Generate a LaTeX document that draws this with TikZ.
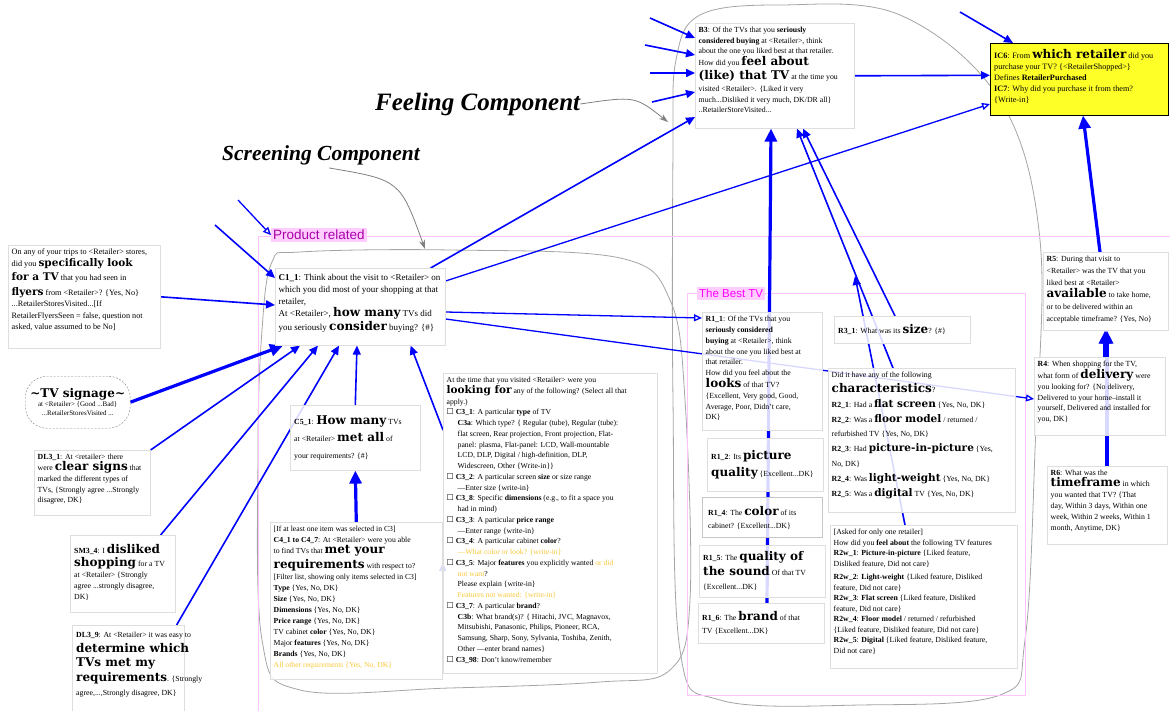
\documentclass[tikz,border=0pt]{standalone}
\usepackage{fontspec}
\setmainfont{Liberation Serif}
\newfontfamily\bigf{DejaVu Serif}
\newfontfamily\symf{DejaVu Sans}
\newfontfamily\lblf{Liberation Sans}
\usetikzlibrary{arrows.meta}
\pgfdeclarelayer{background}
\pgfsetlayers{background,main}

\definecolor{conn}{RGB}{0,0,255}
\definecolor{boxline}{RGB}{222,222,222}
\definecolor{loopgray}{RGB}{165,165,165}
\definecolor{pinkline}{RGB}{255,195,255}
\definecolor{pinkfill}{RGB}{255,205,255}
\definecolor{prodtext}{RGB}{170,0,170}
\definecolor{besttext}{RGB}{255,0,255}
\definecolor{ora}{RGB}{250,200,60}
\definecolor{ylw}{RGB}{255,255,40}

% emphasised key words
\newcommand\bw[1]{{\bigf\bfseries\fontsize{12}{14}\selectfont #1}}
\newcommand\bwm[1]{{\bigf\bfseries\fontsize{10.5}{13}\selectfont #1}}
\newcommand\chkbox{{\symf\fontsize{8}{10}\selectfont ☐}\ }
\newcommand\indt{\hspace*{11pt}}

\tikzset{
  qbox/.style={draw=boxline, fill=white, fill opacity=0.85, line width=0.6pt,
    anchor=north west, inner sep=0pt},
  qtext/.style={anchor=north west, align=left, inner sep=0pt},
  link/.style={draw=conn, line width=1.6pt, -{Triangle[length=9pt,width=8pt]}},
  openlink/.style={draw=conn, line width=1.3pt, -{Triangle[open,length=8pt,width=7pt]}},
  heavylink/.style={draw=conn, line width=3.2pt, -{Triangle[length=13pt,width=12pt]}},
  loopline/.style={draw=loopgray, line width=0.8pt},
  graylink/.style={draw=gray, line width=0.8pt, -{Stealth[length=9pt,width=6pt]}},
  complabel/.style={inner sep=0pt, anchor=west},
}

% question box, text from the top: name, x, y, width, height, font, text
\newcommand\qnode[7]{%
  \node[qbox, minimum width=#4pt, minimum height=#5pt] (#1) at (#2,#3) {};
  \node[qtext, font=#6] (#1t) at ([shift={(3.5pt,-4pt)}]#1.north west) {#7};}
% question box, text centred vertically
\newcommand\qnodec[7]{%
  \node[qbox, minimum width=#4pt, minimum height=#5pt] (#1) at (#2,#3) {};
  \node[qtext, anchor=west, font=#6] (#1t) at ([xshift=4pt]#1.west) {#7};}

\begin{document}
\begin{tikzpicture}[x=1pt,y=-1pt]
\useasboundingbox (0,0) rectangle (1170,711);

% ---------- labels ----------
\node[complabel, font=\fontsize{25}{27}\selectfont\bfseries\itshape] (feel) at (375,104) {Feeling Component};
\node[complabel, font=\fontsize{21.5}{23}\selectfont\bfseries\itshape] (scr) at (222,155) {Screening Component};
\node[fill=pinkfill, text=prodtext, font=\lblf\fontsize{13.5}{13.5}\selectfont,
  inner xsep=2pt, inner ysep=2pt, anchor=north west] (prod) at (271,228) {Product related};

% ---------- feeling component ----------
\qnode{b3}{695}{23}{159}{105}{\fontsize{7.8}{10.5}\selectfont}{%
\textbf{B3}: Of the TVs that you \textbf{seriously}\\
\textbf{considered buying} at <Retailer>, think\\
about the one you liked best at that retailer.\\
How did you \bw{feel about}\\[2pt]
\bw{(like) that TV} at the time you\\[2pt]
visited <Retailer>. \{Liked it very\\
much...Disliked it very much, DK/DR all\}\\
..RetailerStoreVisited...}

\node[draw=black, fill=ylw, line width=0.6pt, minimum width=178pt, minimum height=72pt,
  anchor=north west, inner sep=0pt] (ic6) at (990,43) {};
\node[qtext, font=\fontsize{8.2}{11}\selectfont] (ic6t) at ([shift={(4pt,-6pt)}]ic6.north west) {%
\textbf{IC6}: From \bw{which retailer} did you\\
purchase your TV? \{<RetailerShopped>\}\\
Defines \textbf{RetailerPurchased}\\
\textbf{IC7}: Why did you purchase it from them?\\
\{Write-in\}};

% ---------- screening component ----------
\qnode{fly}{8}{245}{152}{103}{\fontsize{8.2}{11.5}\selectfont}{%
On any of your trips to <Retailer> stores,\\
did you \bwm{specifically look}\\[3pt]
\bwm{for a TV} that you had seen in\\[3pt]
\bwm{flyers} from <Retailer>? \{Yes, No\}\\
...RetailerStoresVisited...{[}If\\
RetailerFlyersSeen = false, question not\\
asked, value assumed to be No{]}}

\node[qbox, minimum width=170pt, minimum height=77pt] (c1) at (275,268) {};
\node[qtext, font=\fontsize{9}{12}\selectfont] (c1t) at ([shift={(3.5pt,-6pt)}]c1.north west) {%
\textbf{C1\_1}: Think about the visit to <Retailer> on\\
which you did most of your shopping at that\\
retailer,\\
At <Retailer>, \bw{how many} TVs did\\[2pt]
you seriously \bw{consider} buying? \{\#\}};

\node[draw=gray, dash pattern=on 2pt off 1.5pt, rounded corners=22pt, fill=white,
  fill opacity=0.85, text opacity=1, minimum width=105pt, minimum height=52pt,
  anchor=north west, align=center, inner sep=0pt, font=\fontsize{7}{9}\selectfont] (sign) at (25,376)
  {\bw{\textasciitilde TV signage\textasciitilde}\\ at <Retailer> \{Good ...Bad\}\\ ...RetailerStoresVisited ...};

\qnode{dl31}{34}{450}{116}{65}{\fontsize{7.8}{10.8}\selectfont}{%
\textbf{DL3\_1}: At <retailer> there\\
were \bw{clear signs} that\\
marked the different types of\\
TVs, \{Strongly agree ...Strongly\\
disagree, DK\}}

\node[qbox, minimum width=105pt, minimum height=77pt] (sm34) at (70,535) {};
\node[qtext, font=\fontsize{7.8}{11}\selectfont] (sm34t) at ([shift={(4pt,-9pt)}]sm34.north west) {%
\textbf{SM3\_4}: I \bw{disliked}\\[2pt]
\bw{shopping} for a TV\\
at <Retailer> \{Strongly\\
agree ...strongly disagree,\\
DK\}};

\node[qbox, minimum width=112pt, minimum height=86pt] (dl39) at (72,625) {};
\node[qtext, font=\fontsize{7.8}{14.5}\selectfont] (dl39t) at ([shift={(4pt,-7pt)}]dl39.north west) {%
\textbf{DL3\_9}: At <Retailer> it was easy to\\
\bw{determine which}\\
\bw{TVs met my}\\
\bw{requirements}. \{Strongly\\
agree,...,Strongly disagree, DK\}};

\qnodec{c5}{290}{405}{130}{65}{\fontsize{7.8}{17}\selectfont}{%
\textbf{C5\_1}: \bw{How many} TVs\\
at <Retailer> \bw{met all} of\\
your requirements? \{\#\}}

\qnode{c4}{270}{522}{172}{157}{\fontsize{7.7}{11}\selectfont}{%
{[}If at least one item was selected in C3{]}\\
\textbf{C4\_1 to C4\_7}: At <Retailer> were you able\\
to find TVs that \bw{met your}\\[2pt]
\bw{requirements} with respect to?\\
{[}Filter list, showing only items selected in C3{]}\\
\textbf{Type} \{Yes, No, DK\}\\
\textbf{Size} \{Yes, No, DK\}\\
\textbf{Dimensions} \{Yes, No, DK\}\\
\textbf{Price range} \{Yes, No, DK\}\\
TV cabinet \textbf{color} \{Yes, No, DK\}\\
Major \textbf{features} \{Yes, No, DK\}\\
\textbf{Brands} \{Yes, No, DK\}\\
\textcolor{ora}{All other requirements \{Yes, No, DK\}}}

\qnode{c3}{443}{373}{214}{300}{\fontsize{7.7}{10.75}\selectfont}{%
At the time that you visited <Retailer> were you\\
\bwm{looking for} any of the following? (Select all that\\
apply.)\\
\chkbox\textbf{C3\_1}: A particular \textbf{type} of TV\\
\indt\textbf{C3a}: Which type? \{ Regular (tube), Regular (tube):\\
\indt flat screen, Rear projection, Front projection, Flat-\\
\indt panel: plasma, Flat-panel: LCD, Wall-mountable\\
\indt LCD, DLP, Digital / high-definition, DLP,\\
\indt Widescreen, Other \{Write-in\}\}\\
\chkbox\textbf{C3\_2}: A particular screen \textbf{size} or size range\\
\indt ---Enter size \{write-in\}\\
\chkbox\textbf{C3\_8}: Specific \textbf{dimensions} (e.g., to fit a space you\\
\indt had in mind)\\
\chkbox\textbf{C3\_3}: A particular \textbf{price range}\\
\indt ---Enter range \{write-in\}\\
\chkbox\textbf{C3\_4}: A particular cabinet \textbf{color}?\\
\indt\textcolor{ora}{---What color or look? \{write-in\}}\\
\chkbox\textbf{C3\_5}: Major \textbf{features} you explicitly wanted \textcolor{ora}{or did}\\
\indt\textcolor{ora}{not want}?\\
\indt Please explain \{write-in\}\\
\indt\textcolor{ora}{Features not wanted: \{write-in\}}\\
\chkbox\textbf{C3\_7}: A particular \textbf{brand}?\\
\indt\textbf{C3b}: What brand(s)? \{ Hitachi, JVC, Magnavox,\\
\indt Mitsubishi, Panasonic, Philips, Pioneer, RCA,\\
\indt Samsung, Sharp, Sony, Sylvania, Toshiba, Zenith,\\
\indt Other ---enter brand names\}\\
\chkbox\textbf{C3\_98}: Don't know/remember}

% ---------- the best TV ----------
\node[fill=pinkfill, text=besttext, font=\lblf\fontsize{11.5}{11.5}\selectfont,
  inner sep=2pt, anchor=north west] (best) at (697,287) {The Best TV};

\qnode{r11}{702}{312}{120}{118}{\fontsize{7.8}{10.8}\selectfont}{%
\textbf{R1\_1}: Of the TVs that you\\
\textbf{seriously considered}\\
\textbf{buying} at <Retailer>, think\\
about the one you liked best at\\
that retailer.\\
How did you feel about the\\
\bw{looks} of that TV?\\
\{Excellent, Very good, Good,\\
Average, Poor, Didn't care,\\
DK\}}

\qnodec{r12}{707}{438}{116}{53}{\fontsize{7.8}{17}\selectfont}{%
\textbf{R1\_2}: Its \bw{picture}\\
\bw{quality} \{Excellent...DK\}}

\node[draw=gray!45, fill=white, fill opacity=0.85, line width=1.2pt, minimum width=120pt,
  minimum height=40pt, anchor=north west, inner sep=0pt] (r14) at (702,497) {};
\node[qtext, anchor=west, font=\fontsize{7.8}{13}\selectfont] (r14t) at ([xshift=6pt]r14.west) {%
\textbf{R1\_4}: The \bw{color} of its\\
cabinet? \{Excellent...DK\}};

\qnodec{r15}{699}{545}{126}{52}{\fontsize{7.8}{14.5}\selectfont}{%
\textbf{R1\_5}: The \bw{quality of}\\
\bw{the sound} Of that TV\\
\{Excellent...DK\}}

\qnodec{r16}{698}{603}{126}{40}{\fontsize{7.8}{13}\selectfont}{%
\textbf{R1\_6}: The \bw{brand} of that\\
TV \{Excellent...DK\}}

\qnodec{r31}{834}{316}{136}{27}{\fontsize{7.8}{12}\selectfont}{%
\textbf{R3\_1}: What was its \bw{size}? \{\#\}}

\qnode{r2}{828}{368}{187}{144}{\fontsize{7.8}{14.8}\selectfont}{%
Did it have any of the following\\
\bw{characteristics}?\\
\textbf{R2\_1}: Had a \bwm{flat screen} \{Yes, No, DK\}\\
\textbf{R2\_2}: Was a \bwm{floor model} / returned /\\
refurbished TV \{Yes, No, DK\}\\
\textbf{R2\_3}: Had \bwm{picture-in-picture} \{Yes,\\
No, DK\}\\
\textbf{R2\_4}: Was \bwm{light-weight} \{Yes, No, DK\}\\
\textbf{R2\_5}: Was a \bwm{digital} TV \{Yes, No, DK\}}

\qnode{r2w}{830}{525}{187}{143}{\fontsize{7.8}{10.5}\selectfont}{%
{[}Asked for only one retailer{]}\\
How did you \textbf{feel about} the following TV features\\
\textbf{R2w\_1}: \textbf{Picture-in-picture} \{Liked feature,\\
Disliked feature, Did not care\}\\[3pt]
\textbf{R2w\_2}: \textbf{Light-weight} \{Liked feature, Disliked\\
feature, Did not care\}\\
\textbf{R2w\_3}: \textbf{Flat screen} \{Liked feature, Disliked\\
feature, Did not care\}\\
\textbf{R2w\_4}: \textbf{Floor model} / returned / refurbished\\
\{Liked feature, Disliked feature, Did not care\}\\
\textbf{R2w\_5}: \textbf{Digital} \{Liked feature, Disliked feature,\\
Did not care\}}

\qnode{r5}{1043}{252}{125}{78}{\fontsize{7.8}{12}\selectfont}{%
\textbf{R5}: During that visit to\\
<Retailer> was the TV that you\\
liked best at <Retailer>\\
\bw{available} to take home,\\
or to be delivered within an\\
acceptable timeframe? \{Yes, No\}}

\qnode{r4}{1034}{357}{131}{78}{\fontsize{7.8}{10.8}\selectfont}{%
\textbf{R4}: When shopping for the TV,\\
what form of \bw{delivery} were\\
you looking for? \{No delivery,\\
Delivered to your home--install it\\
yourself, Delivered and installed for\\
you, DK\}}

\qnode{r6}{1047}{466}{120}{78}{\fontsize{7.8}{11}\selectfont}{%
\textbf{R6}: What was the\\
\bw{timeframe} in which\\
you wanted that TV? \{That\\
day, Within 3 days, Within one\\
week, Within 2 weeks, Within 1\\
month, Anytime, DK\}}

% free ends of incoming links
\coordinate (in1) at (650,18);
\coordinate (in2) at (645,45);
\coordinate (in3) at (650,73);
\coordinate (in4) at (652,102);
\coordinate (in5) at (960,12);
\coordinate (in6) at (215,225);
\coordinate (in7) at (238,200);
\coordinate (r2wend) at (855,276);
\coordinate (feelloop) at (668,122);
\coordinate (scrloop) at (425,249);

\begin{pgfonlayer}{background}
\fill[white] (0,0) rectangle (1170,711);
% component outlines
\draw[loopline] plot[smooth cycle, tension=0.6] coordinates {(676,60) (700,15) (780,5) (900,15) (1000,100)
  (1040,240) (1035,450) (1025,640) (1000,695) (860,705) (720,700) (680,650) (673,400) (673,150)};
\draw[loopline] plot[smooth cycle, tension=0.6] coordinates {(262,330) (272,262) (300,252) (450,250) (620,258)
  (670,300) (685,400) (690,600) (670,670) (600,682) (450,688) (300,690) (262,640) (258,450)};
% product related / best TV areas
\draw[pinkline, line width=1pt] (258,711) -- (258,237) -- (1170,237);
\node[draw=pinkline, line width=1pt, minimum width=338pt, minimum height=402pt,
  anchor=north west, inner sep=0pt] (bestarea) at (687,293) {};

% component pointers
\draw[graylink] (feel.east) .. controls (635,96) .. (feelloop);
\draw[graylink] ([xshift=8pt,yshift=-3pt]scr.south) .. controls (400,180) .. (scrloop);

% links into B3
\draw[link] (in1) -- ([yshift=-15pt]b3.north west);
\draw[link] (in2) -- ([yshift=-32pt]b3.north west);
\draw[link] (in3) -- ([yshift=-50pt]b3.north west);
\draw[link] (in4) -- ([yshift=-69pt]b3.north west);
\draw[link] ([xshift=-15pt]c1.north east) -- ([yshift=-94pt]b3.north west);
\draw[heavylink] ([xshift=69pt]r16.north west) -- ([xshift=76pt]b3.south west);
\draw[link] ([xshift=65pt]r2.north west) -- ([xshift=102pt]b3.south west);
\draw[link] ([xshift=61pt]r31.north west) -- ([xshift=108pt]b3.south west);
\draw[link] ([xshift=75pt]r2w.north west) -- (r2wend);

% links into IC6
\draw[link] (b3.east) -- ([yshift=4pt]ic6.west);
\draw[link] (in5) -- ([xshift=23pt]ic6.north west);
\draw[openlink] ([yshift=-13pt]c1.north east) -- ([yshift=-61pt]ic6.north west);
\draw[heavylink] ([xshift=57pt]r5.north west) -- ([xshift=93pt]ic6.south west);

% delivery chain
\draw[heavylink] ([xshift=71pt]r4.north west) -- ([xshift=62pt]r5.south west);
\draw[heavylink] ([xshift=60pt]r6.north west) -- ([xshift=64pt]r5.south west);

% from C1_1 to the best TV questions
\draw[openlink] ([yshift=-44pt]c1.north east) -- ([yshift=-6pt]r11.north west);
\draw[openlink] ([yshift=-51pt]c1.north east) -- ([yshift=-42pt]r4.north west);

% screening links into C1_1
\draw[link] (fly.east) -- ([yshift=-37pt]c1.north west);
\draw[link] (in6) -- ([yshift=-10pt]c1.north west);
\draw[openlink] (in7) -- (prod.west);
\draw[heavylink] (sign.east) -- ([xshift=8pt]c1.south west);
\draw[link] (dl31.north east) -- ([xshift=25pt]c1.south west);
\draw[link] ([xshift=-15pt]sm34.north east) -- ([xshift=43pt]c1.south west);
\draw[link] ([xshift=-8pt]dl39.north east) -- ([xshift=64pt]c1.south west);
\draw[link] (c5.north) -- ([xshift=82pt]c1.south west);
\draw[link] ([yshift=-57pt]c3.north west) -- ([xshift=-35pt]c1.south east);
\draw[heavylink] (c4.north) -- (c5.south);
\draw[openlink] ([yshift=-52pt]c4.north east) -- ([yshift=-190pt]c3.north west);
\end{pgfonlayer}
\end{tikzpicture}
\end{document}
